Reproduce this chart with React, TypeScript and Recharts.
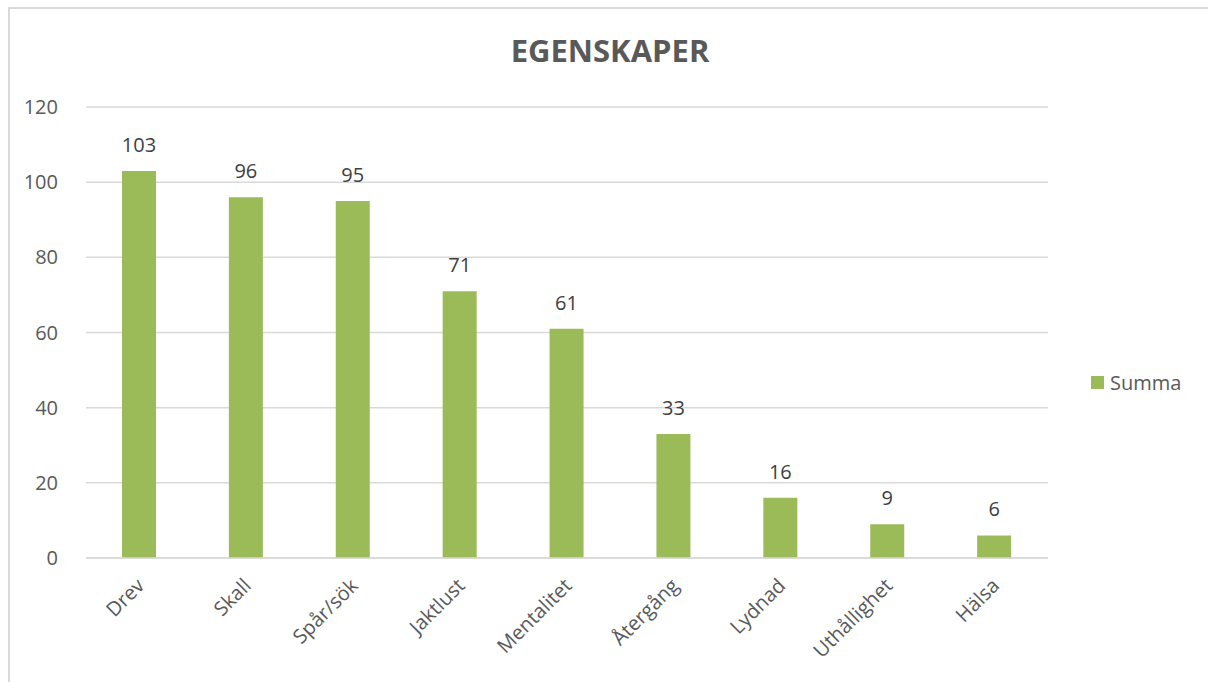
import React from 'react';
import { BarChart, Bar, XAxis, YAxis, CartesianGrid, LabelList } from 'recharts';

const categories = ['Drev', 'Skall', 'Spår/sök', 'Jaktlust', 'Mentalitet', 'Återgång', 'Lydnad', 'Uthållighet', 'Hälsa'];
const summa = [103, 96, 95, 71, 61, 33, 16, 9, 6];
const yTicks = [0, 20, 40, 60, 80, 100, 120];

const data = categories.map((name, i) => ({ name, Summa: summa[i] }));

const FONT = '"Open Sans", "Liberation Sans", sans-serif';
const GREEN = '#9bbb59';

function RotatedTick(props: any) {
  const { x, y, payload } = props;
  return (
    <g transform={`translate(${x + 6},${y + 21})`}>
      <text transform="rotate(-45)" textAnchor="end" fill="#595959" fontSize={20} fontFamily={FONT}>
        {payload.value}
      </text>
    </g>
  );
}

export default function App() {
  return (
    <div style={{ position: 'absolute', left: 0, top: 0, width: 1208, height: 682, overflow: 'hidden', background: '#fff' }}>
      <div
        style={{
          position: 'absolute',
          left: 8,
          top: 7,
          width: 1220,
          height: 700,
          border: '2px solid #d9d9d9',
          boxSizing: 'border-box',
        }}
      />
      <div
        style={{
          position: 'absolute',
          left: 6,
          top: 29,
          width: 1208,
          textAlign: 'center',
          fontFamily: FONT,
          fontWeight: 700,
          fontSize: 31,
          color: '#595959',
        }}
      >
        EGENSKAPER
      </div>
      {/* legend */}
      <div
        style={{
          position: 'absolute',
          left: 1091,
          top: 369,
          display: 'flex',
          alignItems: 'center',
          fontFamily: FONT,
          fontSize: 20,
          color: '#595959',
        }}
      >
        <span style={{ width: 13, height: 13, background: GREEN, display: 'inline-block', marginRight: 6 }} />
        Summa
      </div>
      <div style={{ position: 'absolute', left: 0, top: 0 }}>
        <BarChart width={1208} height={682} data={data} margin={{ top: 107, right: 160, left: 26, bottom: 24 }}>
          <CartesianGrid vertical={false} stroke="#d9d9d9" strokeWidth={1.5} />
          <XAxis
            dataKey="name"
            axisLine={{ stroke: '#d9d9d9', strokeWidth: 1.5 }}
            tickLine={false}
            interval={0}
            height={100}
            tick={<RotatedTick />}
          />
          <YAxis
            domain={[0, 120]}
            ticks={yTicks}
            width={60}
            axisLine={false}
            tickLine={false}
            tickMargin={22}
            tick={{ fill: '#595959', fontSize: 20, fontFamily: FONT }}
          />
          <Bar dataKey="Summa" fill={GREEN} barSize={34} isAnimationActive={false}>
            <LabelList dataKey="Summa" position="top" offset={19} fill="#404040" fontSize={20} fontFamily={FONT} />
          </Bar>
        </BarChart>
      </div>
    </div>
  );
}
